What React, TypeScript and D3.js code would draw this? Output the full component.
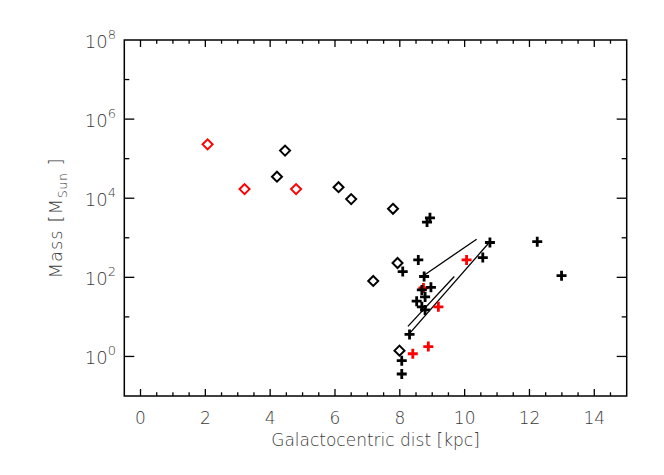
import React, { useEffect } from 'react';
import * as d3 from 'd3';

// galactocentric distance [kpc], mass [M_sun]
const blackDiamondX = [4.46, 4.21, 6.11, 6.5, 7.79, 7.93, 7.18, 7.99];
const blackDiamondM = [1.6e5, 3.5e4, 1.9e4, 9.5e3, 5.4e3, 230, 81, 1.4];
const redDiamondX = [2.07, 3.21, 4.8];
const redDiamondM = [2.3e5, 1.7e4, 1.7e4];

const blackPlusX = [8.84, 8.93, 8.57, 8.09, 8.75, 8.96, 8.68, 8.78, 8.52, 8.68, 8.78, 10.78, 10.56, 12.24, 12.99, 8.3, 8.06, 8.06];
const blackPlusM = [2.5e3, 3.2e3, 275, 140, 105, 56, 48, 32, 25, 18, 15, 760, 316, 795, 110, 3.6, 0.78, 0.36];
const redPlusX = [10.06, 9.19, 8.4, 8.88, 8.73];
const redPlusM = [275, 18, 1.17, 1.78, 54];

// segments: [x1, m1, x2, m2]
const segments = [
  [10.37, 920, 8.76, 115],
  [10.78, 795, 8.31, 3.9],
  [9.68, 105, 8.25, 5.75],
];

const xTicks = [0, 2, 4, 6, 8, 10, 12, 14];
const yTickExp = [0, 2, 4, 6, 8];

const W = 664;
const H = 475;
const m = { l: 124.3, r: 626.7, t: 40, b: 396 };
const font = '"DejaVu Sans", sans-serif';
const ink = '#3a3a3a';

export default function App() {
  useEffect(() => {
    document.body.style.margin = '0';
  }, []);

  const x = d3.scaleLinear().domain([-0.5, 15]).range([m.l, m.r]);
  const y = d3.scaleLog().domain([0.1, 1e8]).range([m.b, m.t]);

  const minorX = d3.range(-0.5, 15.01, 0.5).filter(v => v > -0.5 && v < 15 && v % 2 !== 0);
  const decades = d3.range(-1, 9).map(e => Math.pow(10, e)).filter(v => v > 0.1 && v < 1e8);

  const diamond = (cx: number, cy: number, s = 5) =>
    `M${cx},${cy - s}L${cx + s},${cy}L${cx},${cy + s}L${cx - s},${cy}Z`;
  const plus = (cx: number, cy: number, s = 5) =>
    `M${cx - s},${cy}H${cx + s}M${cx},${cy - s}V${cy + s}`;

  return (
    <svg width={W} height={H} style={{ display: 'block', background: '#fff' }}>
      {/* frame */}
      <rect x={m.l} y={m.t} width={m.r - m.l} height={m.b - m.t} fill="none" stroke="#000" strokeWidth={1.5} />

      {/* x ticks, bottom and top */}
      {xTicks.map(v => (
        <g key={'xt' + v}>
          <line x1={x(v)} x2={x(v)} y1={m.b} y2={m.b - 7} stroke="#000" strokeWidth={1.3} />
          <line x1={x(v)} x2={x(v)} y1={m.t} y2={m.t + 7} stroke="#000" strokeWidth={1.3} />
          <text x={x(v)} y={424} textAnchor="middle" fontFamily={font} fontSize={17} fill={ink} fontWeight={300}>
            {v}
          </text>
        </g>
      ))}
      {minorX.map(v => (
        <g key={'xm' + v}>
          <line x1={x(v)} x2={x(v)} y1={m.b} y2={m.b - 3.7} stroke="#000" strokeWidth={1.3} />
          <line x1={x(v)} x2={x(v)} y1={m.t} y2={m.t + 3.7} stroke="#000" strokeWidth={1.3} />
        </g>
      ))}

      {/* y ticks, left and right */}
      {decades.map(v => {
        const e = Math.round(Math.log10(v));
        const len = e % 2 === 0 ? 10 : 5;
        return (
          <g key={'yt' + e}>
            <line x1={m.l} x2={m.l + len} y1={y(v)} y2={y(v)} stroke="#000" strokeWidth={1.3} />
            <line x1={m.r} x2={m.r - len} y1={y(v)} y2={y(v)} stroke="#000" strokeWidth={1.3} />
          </g>
        );
      })}
      {yTickExp.map(e => (
        <text key={'yl' + e} x={116} y={y(Math.pow(10, e)) + 8} textAnchor="end" fontFamily={font} fontSize={18} fill={ink} fontWeight={300}>
          10
          <tspan fontSize={13} dy={-9}>{e}</tspan>
        </text>
      ))}

      {/* axis titles */}
      <text x={375.5} y={446} textAnchor="middle" fontFamily={font} fontSize={17} fill={ink} fontWeight={300}>
        Galactocentric dist [kpc]
      </text>
      <text transform="translate(62,218) rotate(-90)" textAnchor="middle" fontFamily={font} fontSize={18} fill={ink} fontWeight={300} letterSpacing={1}>
        Mass  [M
        <tspan fontSize={12} dy={5}>Sun</tspan>
        <tspan dy={-5}> ]</tspan>
      </text>

      {/* segments */}
      {segments.map((s, i) => (
        <line key={'s' + i} x1={x(s[0])} y1={y(s[1])} x2={x(s[2])} y2={y(s[3])} stroke="#000" strokeWidth={1.3} />
      ))}

      {/* red markers */}
      {redDiamondX.map((v, i) => (
        <path key={'rd' + i} d={diamond(x(v), y(redDiamondM[i]))} fill="none" stroke="#ff0000" strokeWidth={2} />
      ))}
      {redPlusX.map((v, i) => (
        <path key={'rp' + i} d={plus(x(v), y(redPlusM[i]))} fill="none" stroke="#ff0000" strokeWidth={2.8} />
      ))}

      {/* black markers */}
      {blackDiamondX.map((v, i) => (
        <path key={'bd' + i} d={diamond(x(v), y(blackDiamondM[i]))} fill="none" stroke="#000" strokeWidth={2} />
      ))}
      {blackPlusX.map((v, i) => (
        <path key={'bp' + i} d={plus(x(v), y(blackPlusM[i]))} fill="none" stroke="#000" strokeWidth={2.8} />
      ))}
    </svg>
  );
}
